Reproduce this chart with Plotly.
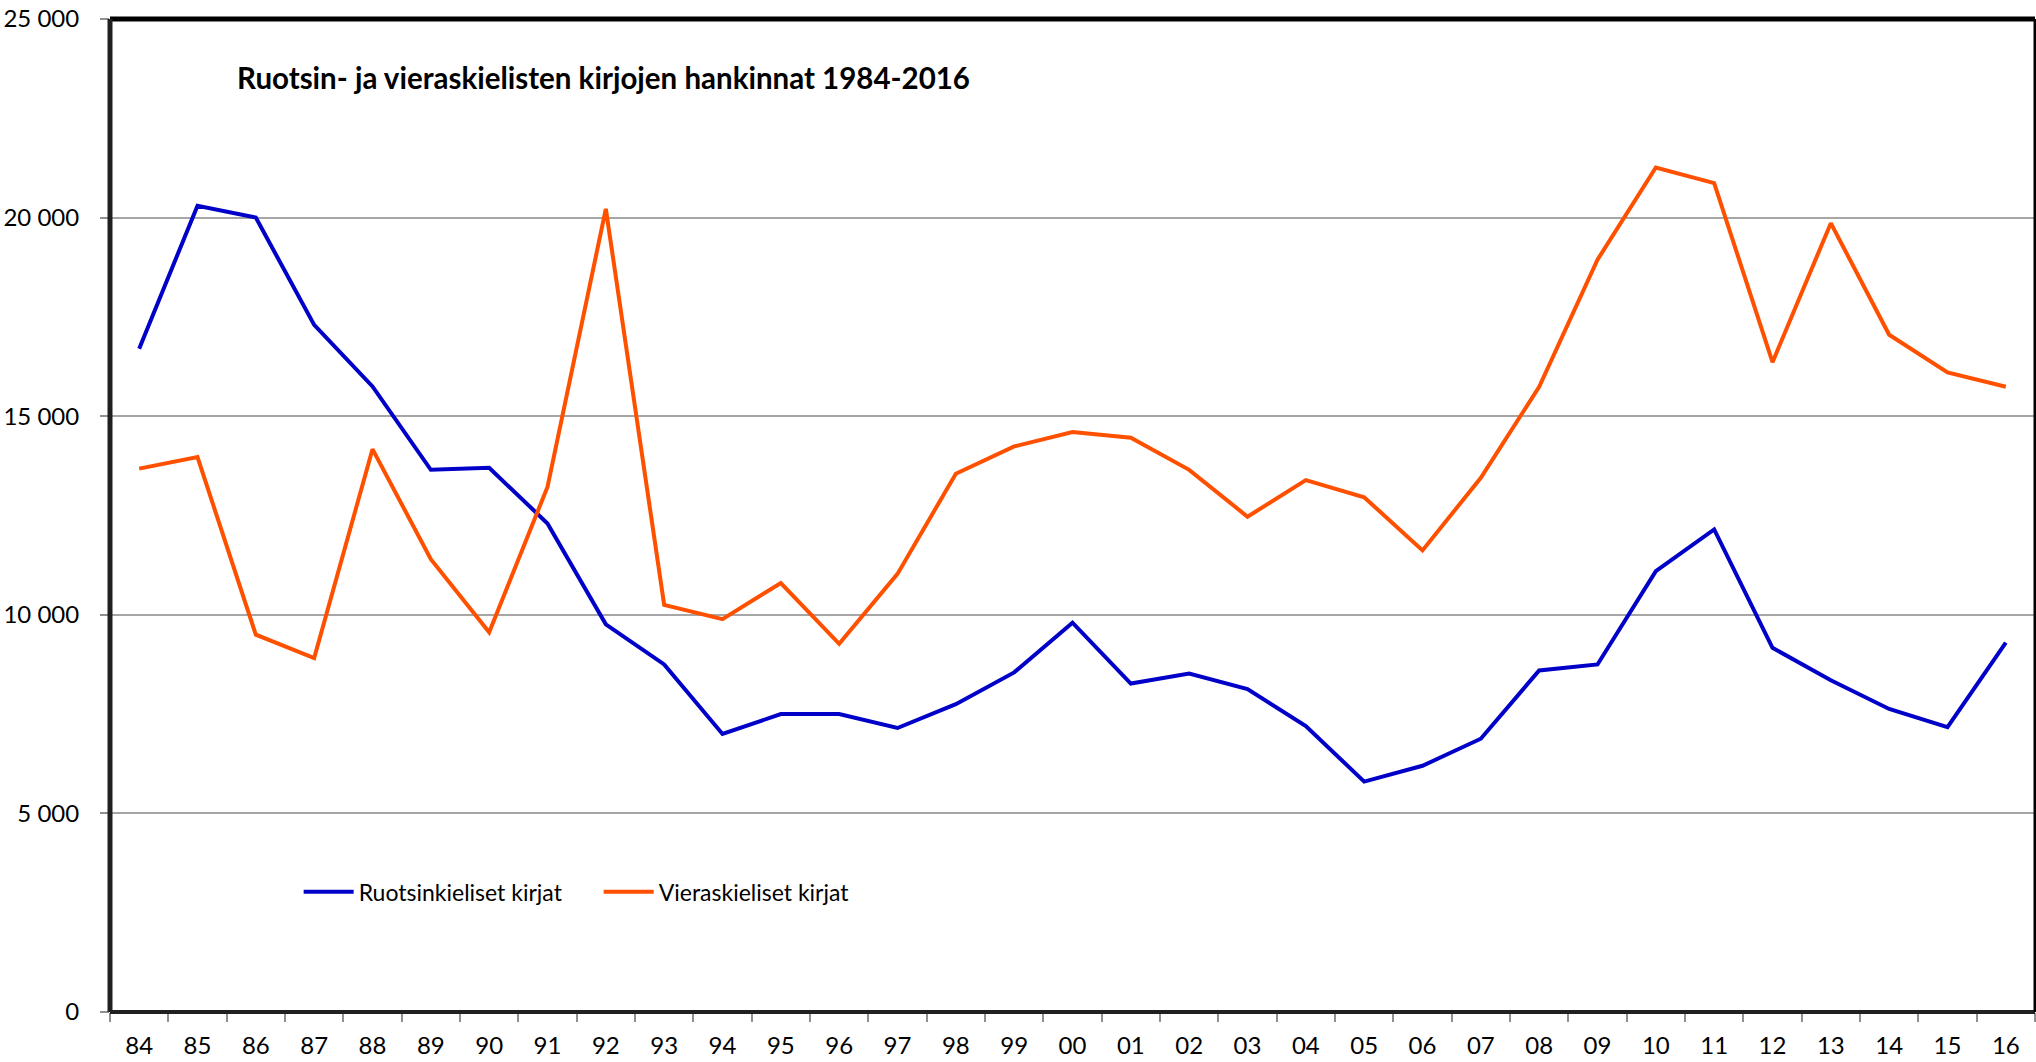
import plotly.graph_objects as go

years = ["84", "85", "86", "87", "88", "89", "90", "91", "92", "93", "94", "95", "96",
         "97", "98", "99", "00", "01", "02", "03", "04", "05", "06", "07", "08", "09",
         "10", "11", "12", "13", "14", "15", "16"]

ruotsi = [16700, 20300, 20000, 17300, 15750, 13650, 13700, 12300, 9760, 8750, 7000,
          7500, 7500, 7150, 7750, 8550, 9800, 8270, 8520, 8130, 7200, 5800, 6200,
          6880, 8600, 8750, 11100, 12150, 9170, 8350, 7630, 7170, 9300]

vieras = [13680, 13970, 9500, 8910, 14170, 11400, 9560, 13220, 20220, 10250, 9890,
          10800, 9270, 11030, 13550, 14240, 14600, 14460, 13650, 12470, 13390, 12960,
          11620, 13450, 15740, 18940, 21260, 20870, 16360, 19860, 17050, 16100, 15740]

title_text = "Ruotsin- ja vieraskielisten kirjojen hankinnat 1984-2016"
name_ruotsi = "Ruotsinkieliset kirjat"
name_vieras = "Vieraskieliset kirjat"

FONT = "Lato"

fig = go.Figure()
fig.add_trace(go.Scatter(x=years, y=ruotsi, mode="lines", name=name_ruotsi,
                         line=dict(color="#0000C8", width=4)))
fig.add_trace(go.Scatter(x=years, y=vieras, mode="lines", name=name_vieras,
                         line=dict(color="#FF5000", width=4)))

fig.update_layout(
    width=2036, height=1062,
    margin=dict(l=110, r=1, t=19, b=50, pad=0),
    paper_bgcolor="white", plot_bgcolor="white",
    separators=", ",
    font=dict(family=FONT, size=24, color="black"),
    showlegend=True,
    legend=dict(orientation="h", x=0.098, y=0.121, xanchor="left", yanchor="middle",
                font=dict(family=FONT, size=23, color="black"),
                bgcolor="rgba(0,0,0,0)", itemwidth=50, tracegroupgap=0,
                entrywidth=235, entrywidthmode="pixels"),
    xaxis=dict(type="category", range=[-0.5, len(years) - 0.5], showgrid=False,
               zeroline=False, showline=False,
               ticks="outside", tickson="boundaries", ticklen=9, tickcolor="#909090",
               tickwidth=1.5, tickfont=dict(family=FONT, size=24),
               ticklabelstandoff=17, fixedrange=True),
    yaxis=dict(range=[0, 25000], dtick=5000, tickformat=",d", showgrid=True,
               gridcolor="#A6A6A6", gridwidth=1.5, zeroline=False, showline=False,
               ticks="outside", ticklen=9, tickcolor="#909090", tickwidth=1.5,
               tickfont=dict(family=FONT, size=24), ticklabelstandoff=16),
    annotations=[dict(text="<b>" + title_text + "</b>", xref="paper", yref="paper",
                      x=0.0650, y=0.9406, xanchor="left", yanchor="middle",
                      showarrow=False, font=dict(family=FONT, size=29.5, color="black"))],
    shapes=[
        dict(type="line", xref="paper", yref="paper", x0=0, x1=1, y0=1, y1=1,
             line=dict(color="black", width=5), layer="above"),
        dict(type="line", xref="paper", yref="paper", x0=0, x1=0, y0=0, y1=1,
             line=dict(color="#202020", width=5), layer="above"),
        dict(type="line", xref="paper", yref="paper", x0=0, x1=1, y0=0, y1=0,
             line=dict(color="#202020", width=4), layer="above"),
        dict(type="line", xref="paper", yref="paper", x0=1, x1=1, y0=0, y1=1,
             line=dict(color="black", width=3), layer="above"),
    ],
)

fig.write_html("out.html", config={"displayModeBar": False},
               post_script="document.body.style.margin='0';")
